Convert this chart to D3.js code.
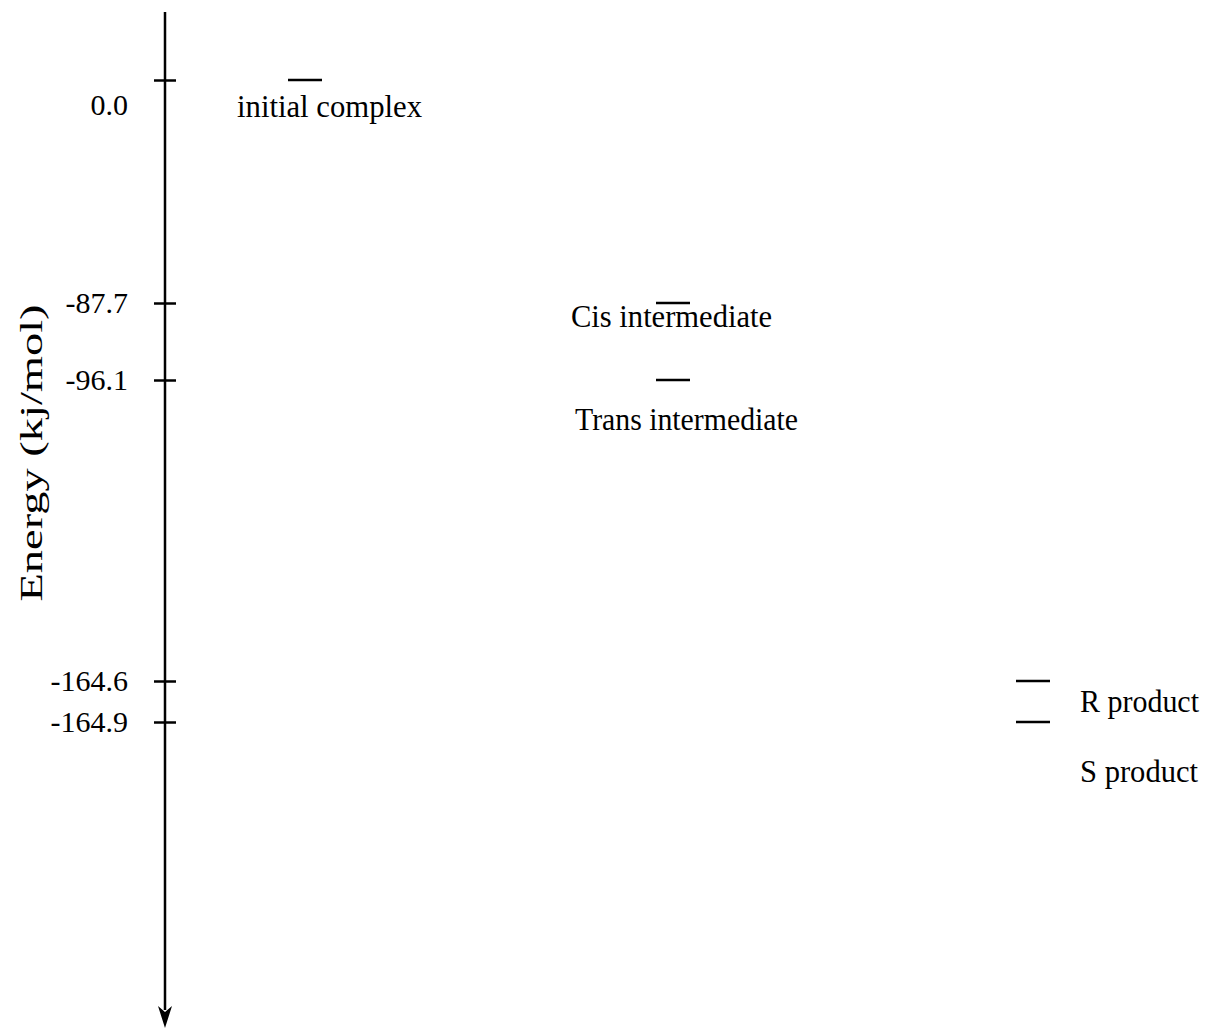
<!DOCTYPE html>
<html>
<head>
<meta charset="utf-8">
<script src="https://cdn.jsdelivr.net/npm/d3@7"></script>
<style>
  html, body { margin: 0; padding: 0; background: #fff; }
  svg text { font-family: "Liberation Serif", "Times New Roman", serif; fill: #000; }
</style>
</head>
<body>
<svg id="chart" width="1208" height="1029"></svg>
<script>
"use strict"

/****** DATA ******/
const stages = ['initial', 'intermediate', 'product']
const levelNames = ['initial complex', 'Cis intermediate', 'Trans intermediate', 'R product', 'S product']
const levelStages = ['initial', 'intermediate', 'intermediate', 'product', 'product']
const levelEnergies = [0.0, -87.7, -96.1, -164.6, -164.9]
const tickValues = [0.0, -87.7, -96.1, -164.6, -164.9]
const tickLabels = ['0.0', '-87.7', '-96.1', '-164.6', '-164.9']
const axisTitle = 'Energy (kj/mol)'

/****** LAYOUT ******/
// the diagram is schematic: energies are not spaced linearly, so the scale is piecewise
const yRange = [80, 303, 380, 681, 722]
const xRange = [305, 673, 1033]
const axisX = 165
const axisTop = 12
const axisBottom = 1028
const levelHalf = 17
// label placement relative to each level line: [dx from line centre to text start, dy to baseline, text length]
const labelLayout = [
  [-68, 37, 185],
  [-102, 24, 201],
  [-98, 50, 223],
  [47, 31, 119],
  [47, 60, 118],
]

const svg = d3.select('#chart')

const y = d3.scaleLinear().domain(tickValues).range(yRange)
const x = d3.scaleOrdinal().domain(stages).range(xRange)

// axis with ticks crossing the line
const axis = d3.axisLeft(y)
  .tickValues(tickValues)
  .tickFormat((d, i) => tickLabels[i])
  .tickSize(0)
  .tickPadding(37)

const gAxis = svg.append('g')
  .attr('transform', `translate(${axisX},0)`)
  .call(axis)
gAxis.select('.domain').remove()
gAxis.selectAll('.tick line')
  .attr('x1', -11).attr('x2', 11)
  .attr('stroke', '#000').attr('stroke-width', 2.5)
gAxis.selectAll('.tick text')
  .attr('font-size', 30)
  .attr('dy', (d, i) => i === 0 ? '1.15em' : '0.32em')

gAxis.append('line')
  .attr('x1', 0).attr('x2', 0)
  .attr('y1', axisTop).attr('y2', axisBottom - 18)
  .attr('stroke', '#000').attr('stroke-width', 2.5)
gAxis.append('path')
  .attr('d', `M0,${axisBottom} L-7,${axisBottom - 22} L0,${axisBottom - 16} L7,${axisBottom - 22} Z`)
  .attr('fill', '#000')

// axis title, stretched along its length like the original
svg.append('text')
  .attr('transform', 'translate(42,453) rotate(-90)')
  .attr('text-anchor', 'middle')
  .attr('font-size', 31)
  .attr('textLength', 297)
  .attr('lengthAdjust', 'spacingAndGlyphs')
  .text(axisTitle)

// energy levels
const levels = levelNames.map((name, i) => ({
  name,
  stage: levelStages[i],
  energy: levelEnergies[i],
  layout: labelLayout[i],
}))

svg.append('g').selectAll('line')
  .data(levels)
  .enter().append('line')
    .attr('x1', d => x(d.stage) - levelHalf)
    .attr('x2', d => x(d.stage) + levelHalf)
    .attr('y1', d => y(d.energy))
    .attr('y2', d => y(d.energy))
    .attr('stroke', '#000')
    .attr('stroke-width', 2.5)

svg.append('g').selectAll('text')
  .data(levels)
  .enter().append('text')
    .attr('x', d => x(d.stage) + d.layout[0])
    .attr('y', d => y(d.energy) + d.layout[1])
    .attr('font-size', 31)
    .attr('textLength', d => d.layout[2])
    .attr('lengthAdjust', 'spacingAndGlyphs')
    .text(d => d.name)
</script>
</body>
</html>
